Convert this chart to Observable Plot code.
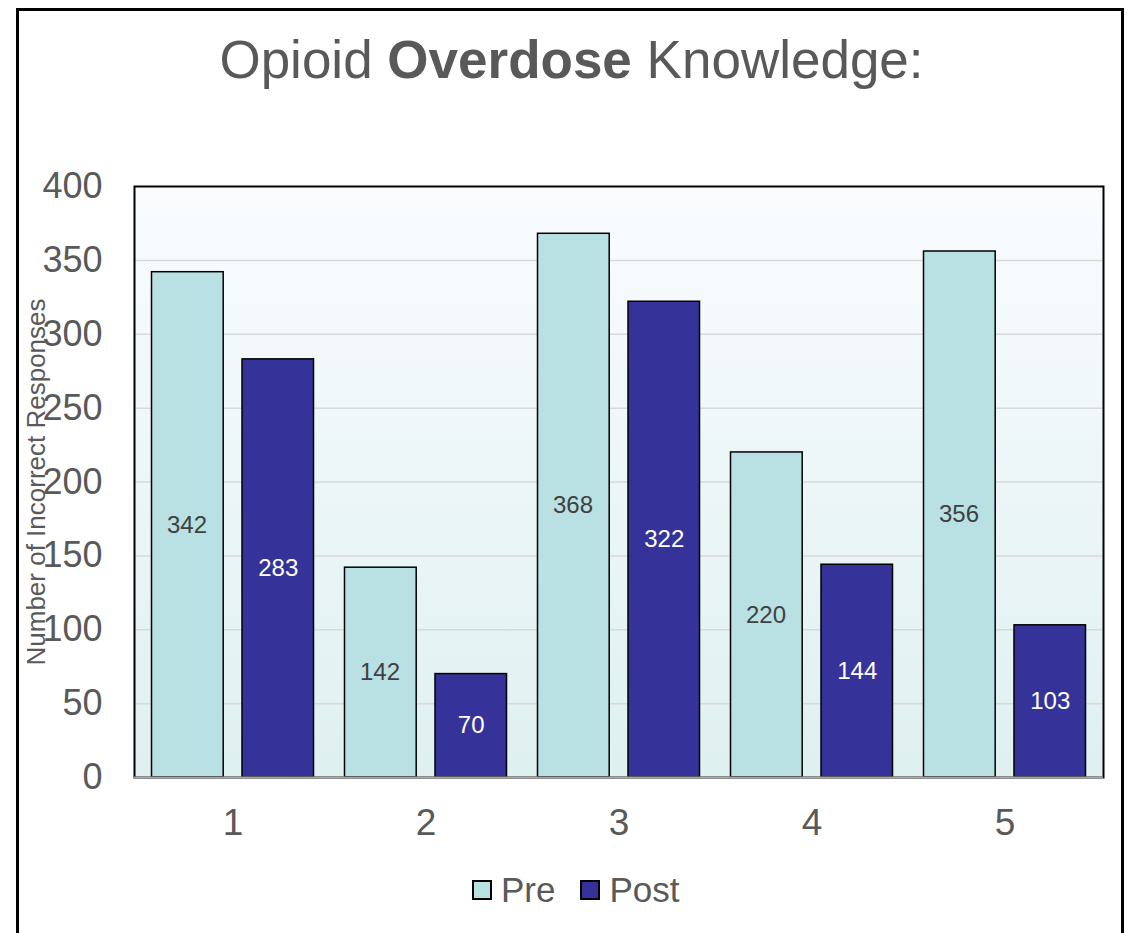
<!DOCTYPE html>
<html>
<head>
<meta charset="utf-8">
<script src="https://cdn.jsdelivr.net/npm/d3@7"></script>
<script src="https://cdn.jsdelivr.net/npm/@observablehq/plot@0.6"></script>
<style>
  html, body { margin: 0; padding: 0; background: #fff; width: 1132px; height: 933px; overflow: hidden; font-family: "Liberation Sans", Arial, sans-serif; }
  #border { position: absolute; left: 16px; top: 8px; width: 1108px; height: 960px; border: 3px solid #000; box-sizing: border-box; }
  #title { position: absolute; left: 16px; width: 1111px; top: 30px; text-align: center; font-size: 53px; color: #595959; line-height: 60px; }
  #title b { font-weight: bold; }
  #chart { position: absolute; left: 0; top: 150px; }
  #legend { position: absolute; top: 872px; left: 472px; display: flex; align-items: center; font-size: 35px; color: #595959; line-height: 36px; }
  .sw { width: 16px; height: 16px; border: 2px solid #000; display: inline-block; margin-right: 9px; }
  .item { display: flex; align-items: center; margin-right: 25px; }
</style>
</head>
<body>
<div id="border"></div>
<div id="title">Opioid <b>Overdose</b> Knowledge:</div>
<div id="chart"></div>
<div id="legend">
  <div class="item"><span class="sw" style="background:#B9E0E3"></span>Pre</div>
  <div class="item"><span class="sw" style="background:#353399"></span>Post</div>
</div>
<script>
const questions = ["1", "2", "3", "4", "5"];
const preValues = [342, 142, 368, 220, 356];
const postValues = [283, 70, 322, 144, 103];
const yTicks = [0, 50, 100, 150, 200, 250, 300, 350, 400];
const yLabel = "Number of Incorrect Responses";

const preData = questions.map((q, i) => ({q, v: preValues[i]}));
const postData = questions.map((q, i) => ({q, v: postValues[i]}));

const plot = Plot.plot({
  width: 1132,
  height: 697,
  marginLeft: 134,
  marginRight: 29,
  marginTop: 36,
  marginBottom: 70,
  style: {fontFamily: "Liberation Sans, Arial, sans-serif", background: "transparent", overflow: "visible"},
  x: {domain: questions, padding: 0, label: null, tickSize: 0, tickPadding: 31},
  y: {domain: [0, 400], ticks: yTicks, label: null, tickSize: 0, tickPadding: 32},
  marks: [
    Plot.frame({fill: "url(#bggrad)", stroke: null}),
    Plot.ruleY(yTicks.filter(t => t > 0 && t < 400), {stroke: "#d9d9d9", strokeWidth: 1.5}),
    Plot.barY(preData, {x: "q", y: "v", fill: "#B9E0E3", stroke: "#000", strokeWidth: 1.5, insetLeft: 15.5, insetRight: 105.8}),
    Plot.barY(postData, {x: "q", y: "v", fill: "#353399", stroke: "#000", strokeWidth: 1.5, insetLeft: 106, insetRight: 15.5}),
    Plot.text(preData, {x: "q", y: d => d.v / 2, text: d => String(d.v), dx: -46, fill: "#404040", fontSize: 24}),
    Plot.text(postData, {x: "q", y: d => d.v / 2, text: d => String(d.v), dx: 45.2, fill: "#ffffff", fontSize: 24}),
    Plot.frame({stroke: "#000", strokeWidth: 2}),
    Plot.ruleY([0], {stroke: "#a6a6a6", strokeWidth: 2}),
    Plot.text([yLabel], {frameAnchor: "left", textAnchor: "middle", rotate: -90, dx: -98, fill: "#595959", fontSize: 26})
  ]
});

const svg = d3.select(plot);
const defs = svg.insert("defs", ":first-child");
const g = defs.append("linearGradient").attr("id", "bggrad").attr("x1", 0).attr("y1", 0).attr("x2", 0).attr("y2", 1);
g.append("stop").attr("offset", "0%").attr("stop-color", "#fafcfe");
g.append("stop").attr("offset", "100%").attr("stop-color", "#dff0f1");
svg.selectAll("g[aria-label^='x-axis'], g[aria-label^='x-axis'] text").attr("font-size", 37).attr("fill", "#595959");
svg.selectAll("g[aria-label^='y-axis'], g[aria-label^='y-axis'] text").attr("font-size", 36).attr("fill", "#595959");
document.getElementById("chart").appendChild(plot);
</script>
</body>
</html>
